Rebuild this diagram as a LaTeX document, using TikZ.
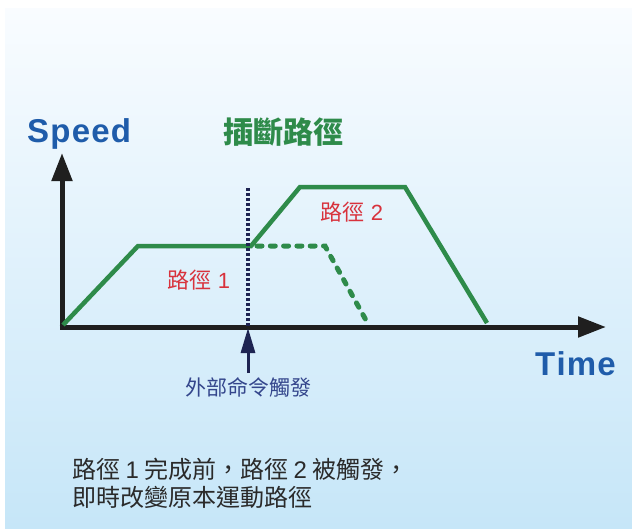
\documentclass[tikz,border=0pt]{standalone}
\usepackage{fontspec}
\setmainfont{Liberation Sans}
\newfontfamily\cjk{Noto Sans CJK TC}
\usetikzlibrary{arrows.meta}
\definecolor{bgtop}{HTML}{F9FCFF}
\definecolor{bgbot}{HTML}{C6E6F8}
\definecolor{axisblue}{HTML}{1F5CAA}
\definecolor{pathgreen}{HTML}{2E8B4A}
\definecolor{navy}{HTML}{1E2452}
\definecolor{labelred}{HTML}{D8323C}
\definecolor{cmdblue}{HTML}{34468C}
\definecolor{txtgray}{HTML}{2A2A2A}
\tikzset{
  axisline/.style={line width=5pt, draw=black!88, -{Triangle[length=28pt,width=20pt]}},
  greenpath/.style={line width=4.5pt, draw=pathgreen, line join=miter},
  greendash/.style={line width=5pt, draw=pathgreen, line cap=round, dash pattern=on 5pt off 8.3pt},
  dotline/.style={line width=3.6pt, draw=navy, dash pattern=on 3.2pt off 1.8pt},
  cmdarrow/.style={line width=3pt, draw=navy, -{Triangle[length=25pt,width=14pt]}},
  axislabel/.style={font=\fontsize{33}{36}\selectfont\bfseries, text=axisblue, inner sep=0pt},
  redlabel/.style={font=\fontsize{22}{26}\selectfont, text=labelred, inner sep=0pt},
  bodytext/.style={font=\fontsize{24}{28}\selectfont\cjk, text=txtgray, inner sep=0pt, anchor=west}
}
\begin{document}
\begin{tikzpicture}[x=1pt,y=-1pt]
\useasboundingbox (0,0) rectangle (632,528);
\fill[white] (0,0) rectangle (632,528);
\shade[top color=bgtop, bottom color=bgbot] (5,8) rectangle (632,528);

% axes
\coordinate (O) at (62,327);
\coordinate (ytop) at (62,153);
\coordinate (ybot) at (62,329.5);
\coordinate (xl) at (59.5,327);
\coordinate (xr) at (606,327);
\draw[axisline] (ybot) -- (ytop);
\draw[axisline] (xl) -- (xr);

% paths
\coordinate (p0) at (63,325);
\coordinate (p1) at (138,246);
\coordinate (p2) at (251,246);
\coordinate (p3) at (300,187);
\coordinate (p4) at (405,187);
\coordinate (p5) at (487,323);
\coordinate (d0) at (257,246);
\coordinate (d1) at (325,246);
\coordinate (d2) at (367,322);
\draw[greendash] (d0) -- (d1) -- (d2);
\draw[greenpath] (p0) -- (p1) -- (p2) -- (p3) -- (p4) -- (p5);

% trigger line
\coordinate (vt) at (248,188);
\coordinate (vb) at (248,326);
\draw[dotline] (vt) -- (vb);
\coordinate (at) at (248,328);
\coordinate (ab) at (248,373);
\draw[cmdarrow] (ab) -- (at);

% labels
\node[axislabel, anchor=base west] (speed) at (27,142) {S\kern1.2pt p\kern1.2pt e\kern1.2pt e\kern1.2pt d};
\node[axislabel, anchor=base west] (time) at (535,375) {T\kern1.2pt i\kern1.2pt m\kern1.2pt e};
\node[inner sep=0pt, text=pathgreen, font=\fontsize{30}{34}\selectfont\cjk\bfseries] (title) at (283,132) {插斷路徑};
\node[redlabel] (lab1) at (199,280) {{\cjk 路徑} 1};
\node[redlabel] (lab2) at (352,212) {{\cjk 路徑} 2};
\node[inner sep=0pt, text=cmdblue, font=\fontsize{21}{24}\selectfont\cjk] (cmd) at (248,387) {外部命令觸發};
\node[bodytext] (line1) at (72,469) {路徑 {\rmfamily 1} 完成前，路徑 {\rmfamily 2} 被觸發，};
\node[bodytext] (line2) at (72,497) {即時改變原本運動路徑};
\end{tikzpicture}
\end{document}
